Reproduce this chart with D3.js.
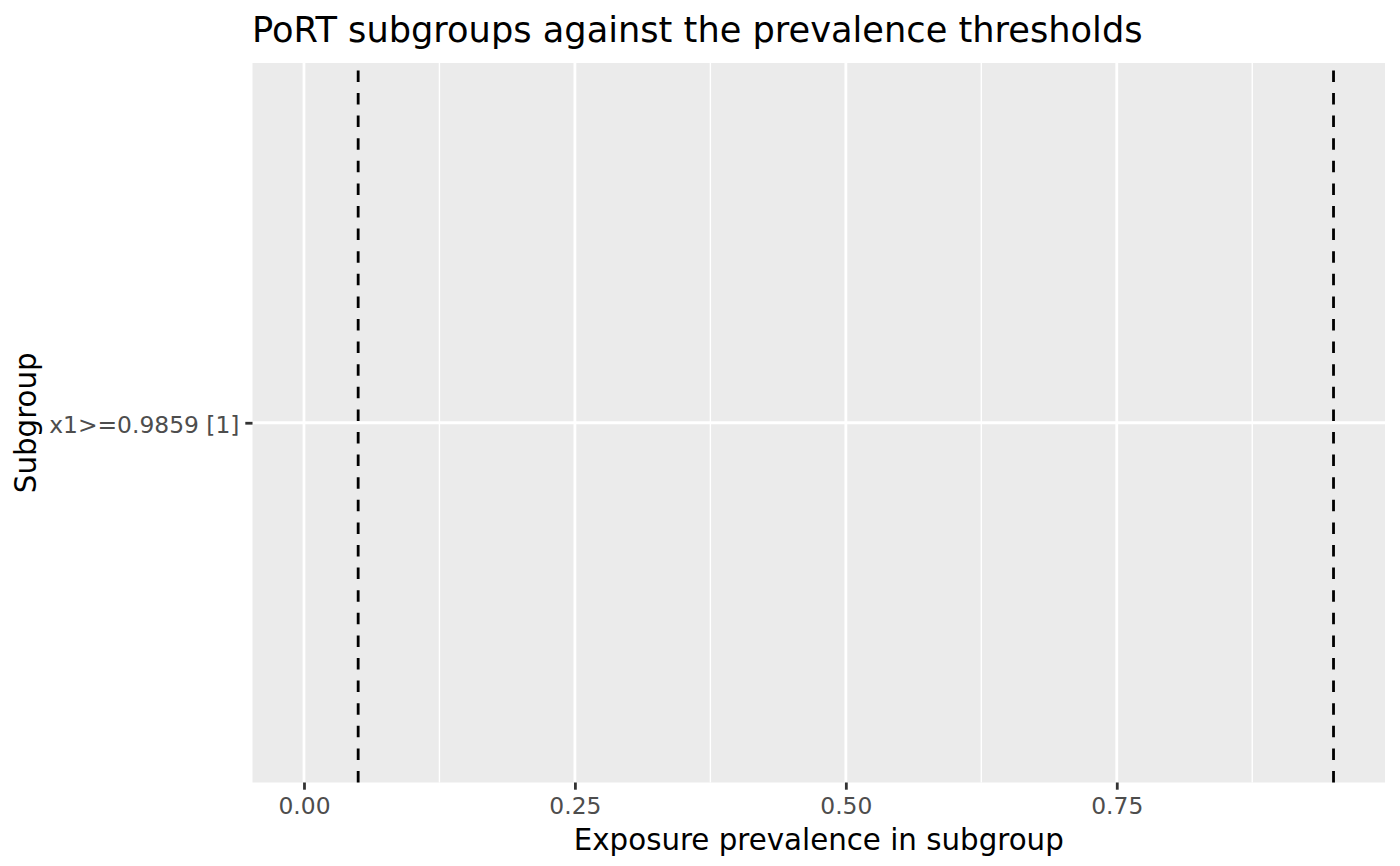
<!DOCTYPE html>
<html>
<head>
<meta charset="utf-8">
<script src="https://cdn.jsdelivr.net/npm/d3@7"></script>
<style>
  body { margin: 0; background: #ffffff; }
  text { font-family: "DejaVu Sans", sans-serif; }
</style>
</head>
<body>
<div id="chart"></div>
<script>
(function() {
  "use strict";

  // data
  var subgroups = ["x1>=0.9859 [1]"];
  var thresholds = [0.05, 0.95];
  var xLimits = [0, 0.95];
  var xTicks = [0, 0.25, 0.5, 0.75];
  var xTickLabels = ["0.00", "0.25", "0.50", "0.75"];
  var xMinor = [0.125, 0.375, 0.625, 0.875];

  var width = 1400;
  var height = 866;
  var panel = { left: 252.5, right: 1385, top: 63, bottom: 782.5 };

  var svg = d3.select("#chart").append("svg")
    .attr("width", width)
    .attr("height", height);

  // ggplot style 5% expansion
  var span = xLimits[1] - xLimits[0];
  var x = d3.scaleLinear()
    .domain([xLimits[0] - span * 0.05, xLimits[1] + span * 0.05])
    .range([panel.left, panel.right]);

  var y = d3.scalePoint()
    .domain(subgroups)
    .range([panel.bottom, panel.top])
    .padding(0.6);

  svg.append("rect")
    .attr("x", panel.left)
    .attr("y", panel.top)
    .attr("width", panel.right - panel.left)
    .attr("height", panel.bottom - panel.top)
    .style("fill", "#ebebeb");

  svg.selectAll("line.minor")
    .data(xMinor)
    .enter()
    .append("line")
    .attr("class", "minor")
    .attr("x1", function (d) { return x(d); })
    .attr("x2", function (d) { return x(d); })
    .attr("y1", panel.top)
    .attr("y2", panel.bottom)
    .style("stroke", "#ffffff")
    .style("stroke-width", "1.4px");

  svg.selectAll("line.majorx")
    .data(xTicks)
    .enter()
    .append("line")
    .attr("class", "majorx")
    .attr("x1", function (d) { return x(d); })
    .attr("x2", function (d) { return x(d); })
    .attr("y1", panel.top)
    .attr("y2", panel.bottom)
    .style("stroke", "#ffffff")
    .style("stroke-width", "2.8px");

  svg.selectAll("line.majory")
    .data(subgroups)
    .enter()
    .append("line")
    .attr("class", "majory")
    .attr("x1", panel.left)
    .attr("x2", panel.right)
    .attr("y1", function (d) { return y(d); })
    .attr("y2", function (d) { return y(d); })
    .style("stroke", "#ffffff")
    .style("stroke-width", "2.8px");

  // threshold lines, drawn bottom to top like grid does
  svg.selectAll("line.threshold")
    .data(thresholds)
    .enter()
    .append("line")
    .attr("class", "threshold")
    .attr("x1", function (d) { return x(d); })
    .attr("x2", function (d) { return x(d); })
    .attr("y1", panel.bottom)
    .attr("y2", panel.top)
    .style("stroke", "#000000")
    .style("stroke-width", "2.8px")
    .style("stroke-dasharray", "11.5,11.1");

  // x axis
  var xAxis = d3.axisBottom(x)
    .tickValues(xTicks)
    .tickFormat(function (d, i) { return xTickLabels[i]; })
    .tickSize(7.2)
    .tickSizeOuter(0);

  var gx = svg.append("g")
    .attr("transform", "translate(0," + panel.bottom + ")")
    .call(xAxis);
  gx.select(".domain").remove();
  gx.selectAll(".tick line").style("stroke", "#333333").style("stroke-width", "2.8px");
  gx.selectAll(".tick text")
    .attr("y", 31.3)
    .attr("dy", null)
    .style("fill", "#4d4d4d")
    .style("font-size", "23.4px")
    .style("font-family", "DejaVu Sans, sans-serif");

  // y axis
  var yAxis = d3.axisLeft(y)
    .tickSize(7.2)
    .tickPadding(5.8)
    .tickSizeOuter(0);

  var gy = svg.append("g")
    .attr("transform", "translate(" + panel.left + ",0)")
    .call(yAxis);
  gy.select(".domain").remove();
  gy.selectAll(".tick line").style("stroke", "#333333").style("stroke-width", "2.8px");
  gy.selectAll(".tick text")
    .attr("dy", "0.4em")
    .style("fill", "#4d4d4d")
    .style("font-size", "23.4px")
    .style("font-family", "DejaVu Sans, sans-serif");

  // titles
  svg.append("text")
    .attr("x", panel.left - 0.5)
    .attr("y", 41.7)
    .style("font-size", "35.2px")
    .style("fill", "#000000")
    .text("PoRT subgroups against the prevalence thresholds");

  svg.append("text")
    .attr("x", (panel.left + panel.right) / 2)
    .attr("y", 850)
    .attr("text-anchor", "middle")
    .style("font-size", "29.3px")
    .style("fill", "#000000")
    .text("Exposure prevalence in subgroup");

  svg.append("text")
    .attr("transform", "translate(36," + ((panel.top + panel.bottom) / 2) + ") rotate(-90)")
    .attr("text-anchor", "middle")
    .style("font-size", "29.3px")
    .style("fill", "#000000")
    .text("Subgroup");
})();
</script>
</body>
</html>
